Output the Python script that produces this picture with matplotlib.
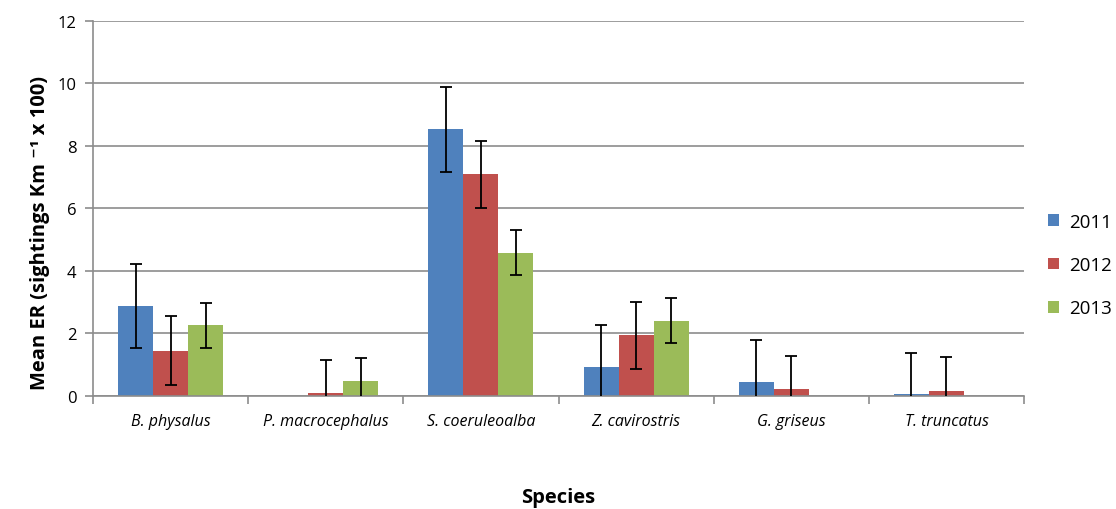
import numpy as np
import matplotlib
matplotlib.use('Agg')
import matplotlib.pyplot as plt

species = ['B. physalus', 'P. macrocephalus', 'S. coeruleoalba',
           'Z. cavirostris', 'G. griseus', 'T. truncatus']
years = ['2011', '2012', '2013']

er_2011 = [2.88, 0.0, 8.53, 0.94, 0.44, 0.05]
er_2012 = [1.45, 0.09, 7.09, 1.94, 0.21, 0.17]
er_2013 = [2.26, 0.47, 4.59, 2.41, np.nan, np.nan]

se_2011 = [1.35, np.nan, 1.35, 1.34, 1.34, 1.34]
se_2012 = [1.10, 1.07, 1.08, 1.08, 1.07, 1.07]
se_2013 = [0.73, 0.73, 0.71, 0.73, np.nan, np.nan]

colors = ['#4F81BD', '#C0504D', '#9BBB59']

plt.rcParams['font.family'] = ['Open Sans', 'DejaVu Sans']

fig = plt.figure(figsize=(11.16, 5.10), dpi=100)
ax = fig.add_axes([0.0833, 0.2216, 0.8343, 0.7353])

x = np.arange(len(species))
w = 0.2255
for i, (vals, errs) in enumerate(zip([er_2011, er_2012, er_2013],
                                     [se_2011, se_2012, se_2013])):
    pos = x + (i - 1) * w
    ax.bar(pos, np.nan_to_num(vals), width=w, color=colors[i],
           label=years[i], zorder=2)
    ax.errorbar(pos, vals, yerr=errs, fmt='none', ecolor='black',
                elinewidth=1.3, capsize=4, capthick=1.3, zorder=3)

ax.set_xlim(-0.5, len(species) - 0.5)
ax.set_ylim(0, 12)
ax.set_yticks(range(0, 13, 2))
ax.yaxis.grid(True, color='#8c8c8c', linewidth=1.2, zorder=0)
ax.set_axisbelow(True)

ax.set_xticks(x)
ax.set_xticklabels(species, style='italic', fontsize=11.5)
ax.tick_params(axis='x', length=0, pad=12)
ax.set_xticks(np.arange(-0.5, len(species)), minor=True)
ax.tick_params(axis='x', which='minor', length=6, color='#8c8c8c', width=1.2)
ax.tick_params(axis='y', length=6, color='#8c8c8c', width=1.2,
               labelsize=12, pad=6)

for side in ['top', 'right']:
    ax.spines[side].set_visible(False)
for side in ['left', 'bottom']:
    ax.spines[side].set_color('#8c8c8c')
    ax.spines[side].set_linewidth(1.2)

ax.set_ylabel('Mean ER (sightings Km \u207b\u00b9 x 100)',
              fontsize=14.5, fontweight='bold')
ax.yaxis.set_label_coords(-0.046, 0.437)
fig.text(0.5, 1 - 498 / 510, 'Species', ha='center', va='center',
         fontsize=14.5, fontweight='bold')

ax.legend(loc='center left', bbox_to_anchor=(1.026, 0.349), frameon=False,
          fontsize=13.5, handlelength=0.6, handleheight=0.6,
          labelspacing=1.35, handletextpad=0.5, borderpad=0,
          borderaxespad=0)

fig.savefig('out.png', dpi=100)
